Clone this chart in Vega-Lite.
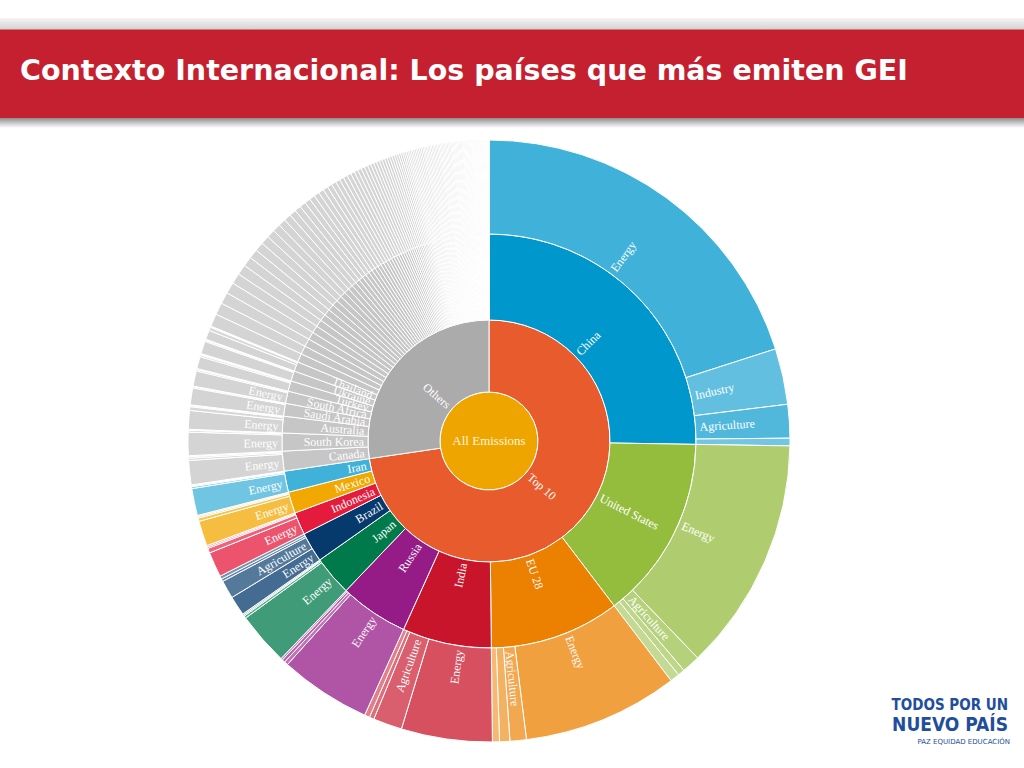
{
"$schema":"https://vega.github.io/schema/vega-lite/v6.json",
"padding":{"top":18,"left":0,"right":0,"bottom":0},
"background":"#ffffff",
"spacing":0,
"config":{"view":{"stroke":null},"concat":{"spacing":0}},
"title":{"text":"PAZ   EQUIDAD   EDUCACIÓN","orient":"bottom","anchor":"end","frame":"bounds","offset":-16,"dx":-14,"font":"DejaVu Sans","fontSize":7,"fontWeight":"normal","color":"#1F4E9D"},
"datasets":{"emissions":[
{"level":0,"name":"All Emissions","group":"All Emissions","value":100},
{"level":1,"name":"Top 10","group":"Top 10","value":72.67},
{"level":1,"name":"Others","group":"Others","value":27.33},
{"level":2,"name":"China","group":"China","value":25.26},
{"level":2,"name":"United States","group":"United States","value":14.40},
{"level":2,"name":"EU 28","group":"EU 28","value":10.16},
{"level":2,"name":"India","group":"India","value":6.96},
{"level":2,"name":"Russia","group":"Russia","value":5.36},
{"level":2,"name":"Japan","group":"Japan","value":3.11},
{"level":2,"name":"Brazil","group":"Brazil","value":2.34},
{"level":2,"name":"Indonesia","group":"Indonesia","value":1.76},
{"level":2,"name":"Mexico","group":"Mexico","value":1.67},
{"level":2,"name":"Iran","group":"Iran","value":1.65},
{"level":2,"name":"Canada","group":"Other","value":1.55},
{"level":2,"name":"South Korea","group":"Other","value":1.40},
{"level":2,"name":"Australia","group":"Other","value":1.30},
{"level":2,"name":"Saudi Arabia","group":"Other","value":1.00},
{"level":2,"name":"South Africa","group":"Other","value":0.95},
{"level":2,"name":"Turkey","group":"Other","value":0.82},
{"level":2,"name":"Ukraine","group":"Other","value":0.80},
{"level":2,"name":"Thailand","group":"Other","value":0.75},
{"level":2,"group":"Other","value":0.68},{"level":2,"group":"Other","value":0.65},{"level":2,"group":"Other","value":0.62},{"level":2,"group":"Other","value":0.60},{"level":2,"group":"Other","value":0.57},{"level":2,"group":"Other","value":0.55},{"level":2,"group":"Other","value":0.52},{"level":2,"group":"Other","value":0.50},{"level":2,"group":"Other","value":0.48},{"level":2,"group":"Other","value":0.46},{"level":2,"group":"Other","value":0.44},{"level":2,"group":"Other","value":0.42},{"level":2,"group":"Other","value":0.40},{"level":2,"group":"Other","value":0.38},
{"level":2,"group":"Other","value":0.36},{"level":2,"group":"Other","value":0.34},{"level":2,"group":"Other","value":0.33},{"level":2,"group":"Other","value":0.31},{"level":2,"group":"Other","value":0.30},{"level":2,"group":"Other","value":0.29},{"level":2,"group":"Other","value":0.28},{"level":2,"group":"Other","value":0.27},{"level":2,"group":"Other","value":0.26},{"level":2,"group":"Other","value":0.25},{"level":2,"group":"Other","value":0.24},{"level":2,"group":"Other","value":0.23},{"level":2,"group":"Other","value":0.22},{"level":2,"group":"Other","value":0.22},{"level":2,"group":"Other","value":0.21},{"level":2,"group":"Other","value":0.20},{"level":2,"group":"Other","value":0.20},{"level":2,"group":"Other","value":0.19},{"level":2,"group":"Other","value":0.18},{"level":2,"group":"Other","value":0.18},{"level":2,"group":"Other","value":0.17},{"level":2,"group":"Other","value":0.16},{"level":2,"group":"Other","value":0.16},{"level":2,"group":"Other","value":0.15},{"level":2,"group":"Other","value":0.15},{"level":2,"group":"Other","value":0.14},{"level":2,"group":"Other","value":0.14},{"level":2,"group":"Other","value":0.13},{"level":2,"group":"Other","value":0.13},{"level":2,"group":"Other","value":0.12},{"level":2,"group":"Other","value":0.12},{"level":2,"group":"Other","value":0.11},{"level":2,"group":"Other","value":0.11},{"level":2,"group":"Other","value":0.10},{"level":2,"group":"Other","value":0.10},
{"level":2,"group":"Other","value":0.09},{"level":2,"group":"Other","value":0.09},{"level":2,"group":"Other","value":0.09},{"level":2,"group":"Other","value":0.09},{"level":2,"group":"Other","value":0.09},{"level":2,"group":"Other","value":0.09},{"level":2,"group":"Other","value":0.09},{"level":2,"group":"Other","value":0.09},{"level":2,"group":"Other","value":0.09},{"level":2,"group":"Other","value":0.09},
{"level":2,"group":"Other","value":0.08},{"level":2,"group":"Other","value":0.08},{"level":2,"group":"Other","value":0.08},{"level":2,"group":"Other","value":0.08},{"level":2,"group":"Other","value":0.08},{"level":2,"group":"Other","value":0.08},{"level":2,"group":"Other","value":0.08},{"level":2,"group":"Other","value":0.08},{"level":2,"group":"Other","value":0.08},{"level":2,"group":"Other","value":0.08},
{"level":2,"group":"Other","value":0.07},{"level":2,"group":"Other","value":0.07},{"level":2,"group":"Other","value":0.07},{"level":2,"group":"Other","value":0.07},{"level":2,"group":"Other","value":0.07},{"level":2,"group":"Other","value":0.07},{"level":2,"group":"Other","value":0.07},{"level":2,"group":"Other","value":0.07},{"level":2,"group":"Other","value":0.07},{"level":2,"group":"Other","value":0.07},
{"level":2,"group":"Other","value":0.06},{"level":2,"group":"Other","value":0.06},{"level":2,"group":"Other","value":0.06},{"level":2,"group":"Other","value":0.06},{"level":2,"group":"Other","value":0.06},{"level":2,"group":"Other","value":0.06},{"level":2,"group":"Other","value":0.06},{"level":2,"group":"Other","value":0.06},{"level":2,"group":"Other","value":0.06},{"level":2,"group":"Other","value":0.06},
{"level":2,"group":"Other","value":0.05},{"level":2,"group":"Other","value":0.05},{"level":2,"group":"Other","value":0.05},{"level":2,"group":"Other","value":0.05},{"level":2,"group":"Other","value":0.05},{"level":2,"group":"Other","value":0.05},{"level":2,"group":"Other","value":0.05},{"level":2,"group":"Other","value":0.05},{"level":2,"group":"Other","value":0.05},{"level":2,"group":"Other","value":0.05},
{"level":2,"group":"Other","value":0.04},{"level":2,"group":"Other","value":0.04},{"level":2,"group":"Other","value":0.04},{"level":2,"group":"Other","value":0.04},{"level":2,"group":"Other","value":0.04},{"level":2,"group":"Other","value":0.04},{"level":2,"group":"Other","value":0.04},{"level":2,"group":"Other","value":0.04},{"level":2,"group":"Other","value":0.04},{"level":2,"group":"Other","value":0.04},
{"level":2,"group":"Other","value":0.03},{"level":2,"group":"Other","value":0.03},{"level":2,"group":"Other","value":0.03},{"level":2,"group":"Other","value":0.03},{"level":2,"group":"Other","value":0.03},{"level":2,"group":"Other","value":0.03},{"level":2,"group":"Other","value":0.03},{"level":2,"group":"Other","value":0.03},{"level":2,"group":"Other","value":0.03},{"level":2,"group":"Other","value":0.03},
{"level":2,"group":"Other","value":0.02},{"level":2,"group":"Other","value":0.02},{"level":2,"group":"Other","value":0.02},{"level":2,"group":"Other","value":0.02},{"level":2,"group":"Other","value":0.02},{"level":2,"group":"Other","value":0.02},{"level":2,"group":"Other","value":0.02},{"level":2,"group":"Other","value":0.02},{"level":2,"group":"Other","value":0.02},{"level":2,"group":"Other","value":0.02},
{"level":2,"group":"Other","value":0.01},{"level":2,"group":"Other","value":0.01},{"level":2,"group":"Other","value":0.01},{"level":2,"group":"Other","value":0.01},
{"level":3,"name":"Energy","group":"China","value":20.05},{"level":3,"name":"Industry","group":"China","value":3.00},{"level":3,"name":"Agriculture","group":"China","value":1.80},{"level":3,"name":"Waste","group":"China","value":0.41},
{"level":3,"name":"Energy","group":"United States","value":12.55},{"level":3,"name":"Agriculture","group":"United States","value":0.98},{"level":3,"name":"Industry","group":"United States","value":0.37},{"level":3,"name":"Waste","group":"United States","value":0.50},
{"level":3,"name":"Energy","group":"EU 28","value":8.35},{"level":3,"name":"Agriculture","group":"EU 28","value":0.88},{"level":3,"name":"Industry","group":"EU 28","value":0.55},{"level":3,"name":"Waste","group":"EU 28","value":0.38},
{"level":3,"name":"Energy","group":"India","value":4.88},{"level":3,"name":"Agriculture","group":"India","value":1.55},{"level":3,"name":"Industry","group":"India","value":0.25},{"level":3,"name":"Waste","group":"India","value":0.28},
{"level":3,"name":"Energy","group":"Russia","value":4.90},{"level":3,"name":"Industry","group":"Russia","value":0.20},{"level":3,"name":"Agriculture","group":"Russia","value":0.16},{"level":3,"name":"Waste","group":"Russia","value":0.10},
{"level":3,"name":"Energy","group":"Japan","value":2.85},{"level":3,"name":"Industry","group":"Japan","value":0.13},{"level":3,"name":"Agriculture","group":"Japan","value":0.06},{"level":3,"name":"Waste","group":"Japan","value":0.07},
{"level":3,"name":"Energy","group":"Brazil","value":1.05},{"level":3,"name":"Agriculture","group":"Brazil","value":0.98},{"level":3,"name":"Industry","group":"Brazil","value":0.14},{"level":3,"name":"Waste","group":"Brazil","value":0.17},
{"level":3,"name":"Energy","group":"Indonesia","value":1.35},{"level":3,"name":"Agriculture","group":"Indonesia","value":0.25},{"level":3,"name":"Industry","group":"Indonesia","value":0.08},{"level":3,"name":"Waste","group":"Indonesia","value":0.08},
{"level":3,"name":"Energy","group":"Mexico","value":1.35},{"level":3,"name":"Agriculture","group":"Mexico","value":0.17},{"level":3,"name":"Industry","group":"Mexico","value":0.08},{"level":3,"name":"Waste","group":"Mexico","value":0.07},
{"level":3,"name":"Energy","group":"Iran","value":1.45},{"level":3,"name":"Agriculture","group":"Iran","value":0.10},{"level":3,"name":"Industry","group":"Iran","value":0.05},{"level":3,"name":"Waste","group":"Iran","value":0.05},
{"level":3,"name":"Energy","group":"Other","value":1.30},{"level":3,"name":"Agriculture","group":"Other","value":0.12},{"level":3,"name":"Industry","group":"Other","value":0.08},{"level":3,"name":"Waste","group":"Other","value":0.05},
{"level":3,"name":"Energy","group":"Other","value":1.25},{"level":3,"name":"Industry","group":"Other","value":0.10},{"level":3,"name":"Agriculture","group":"Other","value":0.03},{"level":3,"name":"Waste","group":"Other","value":0.02},
{"level":3,"name":"Energy","group":"Other","value":1.00},{"level":3,"name":"Agriculture","group":"Other","value":0.20},{"level":3,"name":"Industry","group":"Other","value":0.05},{"level":3,"name":"Waste","group":"Other","value":0.05},
{"level":3,"name":"Energy","group":"Other","value":0.90},{"level":3,"name":"Industry","group":"Other","value":0.07},{"level":3,"name":"Agriculture","group":"Other","value":0.02},{"level":3,"name":"Waste","group":"Other","value":0.01},
{"level":3,"name":"Energy","group":"Other","value":0.82},{"level":3,"name":"Agriculture","group":"Other","value":0.08},{"level":3,"name":"Industry","group":"Other","value":0.03},{"level":3,"name":"Waste","group":"Other","value":0.02},
{"level":3,"name":"Energy","group":"Other","value":0.65},{"level":3,"name":"Agriculture","group":"Other","value":0.09},{"level":3,"name":"Industry","group":"Other","value":0.05},{"level":3,"name":"Waste","group":"Other","value":0.03},
{"level":3,"name":"Energy","group":"Other","value":0.68},{"level":3,"name":"Agriculture","group":"Other","value":0.07},{"level":3,"name":"Industry","group":"Other","value":0.03},{"level":3,"name":"Waste","group":"Other","value":0.02},
{"level":3,"name":"Energy","group":"Other","value":0.50},{"level":3,"name":"Agriculture","group":"Other","value":0.18},{"level":3,"name":"Industry","group":"Other","value":0.04},{"level":3,"name":"Waste","group":"Other","value":0.03},
{"level":3,"name":"Energy","group":"Other","value":0.68},{"level":3,"name":"Energy","group":"Other","value":0.65},{"level":3,"name":"Energy","group":"Other","value":0.62},{"level":3,"name":"Energy","group":"Other","value":0.60},{"level":3,"name":"Energy","group":"Other","value":0.57},{"level":3,"name":"Energy","group":"Other","value":0.55},{"level":3,"name":"Energy","group":"Other","value":0.52},{"level":3,"name":"Energy","group":"Other","value":0.50},{"level":3,"name":"Energy","group":"Other","value":0.48},{"level":3,"name":"Energy","group":"Other","value":0.46},{"level":3,"name":"Energy","group":"Other","value":0.44},{"level":3,"name":"Energy","group":"Other","value":0.42},{"level":3,"name":"Energy","group":"Other","value":0.40},{"level":3,"name":"Energy","group":"Other","value":0.38},
{"level":3,"name":"Energy","group":"Other","value":0.36},{"level":3,"name":"Energy","group":"Other","value":0.34},{"level":3,"name":"Energy","group":"Other","value":0.33},{"level":3,"name":"Energy","group":"Other","value":0.31},{"level":3,"name":"Energy","group":"Other","value":0.30},{"level":3,"name":"Energy","group":"Other","value":0.29},{"level":3,"name":"Energy","group":"Other","value":0.28},{"level":3,"name":"Energy","group":"Other","value":0.27},{"level":3,"name":"Energy","group":"Other","value":0.26},{"level":3,"name":"Energy","group":"Other","value":0.25},{"level":3,"name":"Energy","group":"Other","value":0.24},{"level":3,"name":"Energy","group":"Other","value":0.23},{"level":3,"name":"Energy","group":"Other","value":0.22},{"level":3,"name":"Energy","group":"Other","value":0.22},{"level":3,"name":"Energy","group":"Other","value":0.21},{"level":3,"name":"Energy","group":"Other","value":0.20},{"level":3,"name":"Energy","group":"Other","value":0.20},{"level":3,"name":"Energy","group":"Other","value":0.19},{"level":3,"name":"Energy","group":"Other","value":0.18},{"level":3,"name":"Energy","group":"Other","value":0.18},{"level":3,"name":"Energy","group":"Other","value":0.17},{"level":3,"name":"Energy","group":"Other","value":0.16},{"level":3,"name":"Energy","group":"Other","value":0.16},{"level":3,"name":"Energy","group":"Other","value":0.15},{"level":3,"name":"Energy","group":"Other","value":0.15},{"level":3,"name":"Energy","group":"Other","value":0.14},{"level":3,"name":"Energy","group":"Other","value":0.14},{"level":3,"name":"Energy","group":"Other","value":0.13},{"level":3,"name":"Energy","group":"Other","value":0.13},{"level":3,"name":"Energy","group":"Other","value":0.12},{"level":3,"name":"Energy","group":"Other","value":0.12},{"level":3,"name":"Energy","group":"Other","value":0.11},{"level":3,"name":"Energy","group":"Other","value":0.11},{"level":3,"name":"Energy","group":"Other","value":0.10},{"level":3,"name":"Energy","group":"Other","value":0.10},
{"level":3,"name":"Energy","group":"Other","value":0.09},{"level":3,"name":"Energy","group":"Other","value":0.09},{"level":3,"name":"Energy","group":"Other","value":0.09},{"level":3,"name":"Energy","group":"Other","value":0.09},{"level":3,"name":"Energy","group":"Other","value":0.09},{"level":3,"name":"Energy","group":"Other","value":0.09},{"level":3,"name":"Energy","group":"Other","value":0.09},{"level":3,"name":"Energy","group":"Other","value":0.09},{"level":3,"name":"Energy","group":"Other","value":0.09},{"level":3,"name":"Energy","group":"Other","value":0.09},
{"level":3,"name":"Energy","group":"Other","value":0.08},{"level":3,"name":"Energy","group":"Other","value":0.08},{"level":3,"name":"Energy","group":"Other","value":0.08},{"level":3,"name":"Energy","group":"Other","value":0.08},{"level":3,"name":"Energy","group":"Other","value":0.08},{"level":3,"name":"Energy","group":"Other","value":0.08},{"level":3,"name":"Energy","group":"Other","value":0.08},{"level":3,"name":"Energy","group":"Other","value":0.08},{"level":3,"name":"Energy","group":"Other","value":0.08},{"level":3,"name":"Energy","group":"Other","value":0.08},
{"level":3,"name":"Energy","group":"Other","value":0.07},{"level":3,"name":"Energy","group":"Other","value":0.07},{"level":3,"name":"Energy","group":"Other","value":0.07},{"level":3,"name":"Energy","group":"Other","value":0.07},{"level":3,"name":"Energy","group":"Other","value":0.07},{"level":3,"name":"Energy","group":"Other","value":0.07},{"level":3,"name":"Energy","group":"Other","value":0.07},{"level":3,"name":"Energy","group":"Other","value":0.07},{"level":3,"name":"Energy","group":"Other","value":0.07},{"level":3,"name":"Energy","group":"Other","value":0.07},
{"level":3,"name":"Energy","group":"Other","value":0.06},{"level":3,"name":"Energy","group":"Other","value":0.06},{"level":3,"name":"Energy","group":"Other","value":0.06},{"level":3,"name":"Energy","group":"Other","value":0.06},{"level":3,"name":"Energy","group":"Other","value":0.06},{"level":3,"name":"Energy","group":"Other","value":0.06},{"level":3,"name":"Energy","group":"Other","value":0.06},{"level":3,"name":"Energy","group":"Other","value":0.06},{"level":3,"name":"Energy","group":"Other","value":0.06},{"level":3,"name":"Energy","group":"Other","value":0.06},
{"level":3,"name":"Energy","group":"Other","value":0.05},{"level":3,"name":"Energy","group":"Other","value":0.05},{"level":3,"name":"Energy","group":"Other","value":0.05},{"level":3,"name":"Energy","group":"Other","value":0.05},{"level":3,"name":"Energy","group":"Other","value":0.05},{"level":3,"name":"Energy","group":"Other","value":0.05},{"level":3,"name":"Energy","group":"Other","value":0.05},{"level":3,"name":"Energy","group":"Other","value":0.05},{"level":3,"name":"Energy","group":"Other","value":0.05},{"level":3,"name":"Energy","group":"Other","value":0.05},
{"level":3,"name":"Energy","group":"Other","value":0.04},{"level":3,"name":"Energy","group":"Other","value":0.04},{"level":3,"name":"Energy","group":"Other","value":0.04},{"level":3,"name":"Energy","group":"Other","value":0.04},{"level":3,"name":"Energy","group":"Other","value":0.04},{"level":3,"name":"Energy","group":"Other","value":0.04},{"level":3,"name":"Energy","group":"Other","value":0.04},{"level":3,"name":"Energy","group":"Other","value":0.04},{"level":3,"name":"Energy","group":"Other","value":0.04},{"level":3,"name":"Energy","group":"Other","value":0.04},
{"level":3,"name":"Energy","group":"Other","value":0.03},{"level":3,"name":"Energy","group":"Other","value":0.03},{"level":3,"name":"Energy","group":"Other","value":0.03},{"level":3,"name":"Energy","group":"Other","value":0.03},{"level":3,"name":"Energy","group":"Other","value":0.03},{"level":3,"name":"Energy","group":"Other","value":0.03},{"level":3,"name":"Energy","group":"Other","value":0.03},{"level":3,"name":"Energy","group":"Other","value":0.03},{"level":3,"name":"Energy","group":"Other","value":0.03},{"level":3,"name":"Energy","group":"Other","value":0.03},
{"level":3,"name":"Energy","group":"Other","value":0.02},{"level":3,"name":"Energy","group":"Other","value":0.02},{"level":3,"name":"Energy","group":"Other","value":0.02},{"level":3,"name":"Energy","group":"Other","value":0.02},{"level":3,"name":"Energy","group":"Other","value":0.02},{"level":3,"name":"Energy","group":"Other","value":0.02},{"level":3,"name":"Energy","group":"Other","value":0.02},{"level":3,"name":"Energy","group":"Other","value":0.02},{"level":3,"name":"Energy","group":"Other","value":0.02},{"level":3,"name":"Energy","group":"Other","value":0.02},
{"level":3,"name":"Energy","group":"Other","value":0.01},{"level":3,"name":"Energy","group":"Other","value":0.01},{"level":3,"name":"Energy","group":"Other","value":0.01},{"level":3,"name":"Energy","group":"Other","value":0.01}
]},
"vconcat":[
{
"width":1024,"height":110,
"view":{"stroke":null,"fill":{"gradient":"linear","x1":0,"y1":0,"x2":0,"y2":1,"stops":[{"offset":0,"color":"#F4F4F4"},{"offset":0.1,"color":"#D4D4D4"},{"offset":0.109,"color":"#C4202F"},{"offset":0.905,"color":"#C4202F"},{"offset":0.91,"color":"#8E8E8E"},{"offset":0.955,"color":"#CACACA"},{"offset":1,"color":"#FFFFFF"}]}},
"data":{"values":[]},
"mark":{"type":"text"},
"title":{"text":"Contexto Internacional: Los países que más emiten GEI","orient":"top","anchor":"start","frame":"group","offset":-81,"dx":20,"baseline":"middle","color":"#ffffff","font":"DejaVu Sans","fontSize":28.5,"fontWeight":"bold"}
},
{
"width":978,"height":626,
"data":{"name":"emissions"},
"title":{"text":"TODOS POR UN","subtitle":"NUEVO PAÍS","orient":"bottom","anchor":"end","frame":"group","offset":-56,"dx":30,"font":"Liberation Sans Narrow, DejaVu Sans Condensed, Liberation Sans","fontSize":15,"fontWeight":"bold","color":"#1F4E9D","subtitleFont":"Liberation Sans Narrow, DejaVu Sans Condensed, Liberation Sans","subtitleFontSize":19,"subtitleFontWeight":"bold","subtitleColor":"#1F4E9D","subtitlePadding":3},
"layer":[
{"transform":[{"filter":"datum.level == 0"},{"stack":"value","groupby":[],"as":["t0","t1"]}],
 "mark":{"type":"arc","stroke":"#ffffff","strokeWidth":1},
 "encoding":{
  "theta":{"field":"t0","type":"quantitative","stack":null,"scale":{"domain":[0,100]}},
  "theta2":{"field":"t1"},
  "radius":{"datum":1,"type":"quantitative","scale":{"type":"linear","domain":[0,1,2,3,4],"range":[0,49,121,207,301]}},
  "radius2":{"datum":0},
  "color":{"field":"group","type":"nominal","legend":null,"scale":{"domain":["All Emissions","Top 10","Others","China","United States","EU 28","India","Russia","Japan","Brazil","Indonesia","Mexico","Iran","Other"],"range":["#EFA500","#E75B2D","#ABABAB","#0097CC","#94BC3D","#EC8000","#C8152B","#951B87","#00794B","#063A6D","#E51B3D","#F1A800","#40B1D8","#C6C6C6"]}}
 }},
{"transform":[{"filter":"datum.level == 1"},{"stack":"value","groupby":[],"as":["t0","t1"]}],
 "mark":{"type":"arc","stroke":"#ffffff","strokeWidth":1},
 "encoding":{
  "theta":{"field":"t0","type":"quantitative","stack":null,"scale":{"domain":[0,100]}},
  "theta2":{"field":"t1"},
  "radius":{"datum":2,"type":"quantitative","scale":{"type":"linear","domain":[0,1,2,3,4],"range":[0,49,121,207,301]}},
  "radius2":{"datum":1},
  "color":{"field":"group","type":"nominal","legend":null,"scale":{"domain":["All Emissions","Top 10","Others","China","United States","EU 28","India","Russia","Japan","Brazil","Indonesia","Mexico","Iran","Other"],"range":["#EFA500","#E75B2D","#ABABAB","#0097CC","#94BC3D","#EC8000","#C8152B","#951B87","#00794B","#063A6D","#E51B3D","#F1A800","#40B1D8","#C6C6C6"]}}
 }},
{"transform":[{"filter":"datum.level == 2"},{"stack":"value","groupby":[],"as":["t0","t1"]}],
 "mark":{"type":"arc","stroke":"#ffffff","strokeWidth":1},
 "encoding":{
  "theta":{"field":"t0","type":"quantitative","stack":null,"scale":{"domain":[0,100]}},
  "theta2":{"field":"t1"},
  "radius":{"datum":3,"type":"quantitative","scale":{"type":"linear","domain":[0,1,2,3,4],"range":[0,49,121,207,301]}},
  "radius2":{"datum":2},
  "color":{"field":"group","type":"nominal","legend":null,"scale":{"domain":["All Emissions","Top 10","Others","China","United States","EU 28","India","Russia","Japan","Brazil","Indonesia","Mexico","Iran","Other"],"range":["#EFA500","#E75B2D","#ABABAB","#0097CC","#94BC3D","#EC8000","#C8152B","#951B87","#00794B","#063A6D","#E51B3D","#F1A800","#40B1D8","#C6C6C6"]}}
 }},
{"transform":[{"filter":"datum.level == 3"},{"stack":"value","groupby":[],"as":["t0","t1"]}],
 "mark":{"type":"arc","stroke":"#ffffff","strokeWidth":1},
 "encoding":{
  "theta":{"field":"t0","type":"quantitative","stack":null,"scale":{"domain":[0,100]}},
  "theta2":{"field":"t1"},
  "radius":{"datum":4,"type":"quantitative","scale":{"type":"linear","domain":[0,1,2,3,4],"range":[0,49,121,207,301]}},
  "radius2":{"datum":3},
  "color":{"field":"group","type":"nominal","legend":null,"scale":{"domain":["All Emissions","Top 10","Others","China","United States","EU 28","India","Russia","Japan","Brazil","Indonesia","Mexico","Iran","Other"],"range":["#EFA500","#E75B2D","#ABABAB","#0097CC","#94BC3D","#EC8000","#C8152B","#951B87","#00794B","#063A6D","#E51B3D","#F1A800","#40B1D8","#C6C6C6"]}},
  "fillOpacity":{"field":"name","type":"ordinal","legend":null,"scale":{"domain":["Energy","Agriculture","Industry","Waste"],"range":[0.75,0.55,0.42,0.3]}}
 }},
{"transform":[{"filter":"datum.level >= 1"},{"stack":"value","groupby":["level"],"as":["t0","t1"]},{"filter":"datum.value >= 0.7"},{"fold":["t0","t1"],"as":["edge","pos"]},{"aggregate":[{"op":"mean","field":"pos","as":"mid"}],"groupby":["level","name","t0"]},{"filter":"datum.mid < 50"}],
 "mark":{"type":"text","align":"left","baseline":"middle","radiusOffset":4,"color":"#ffffff","font":"Liberation Serif","fontSize":12},
 "encoding":{
  "theta":{"field":"mid","type":"quantitative","stack":null,"scale":{"domain":[0,100]}},
  "radius":{"field":"level","type":"quantitative","scale":{"type":"linear","domain":[0,1,2,3,4],"range":[0,49,121,207,301]}},
  "angle":{"field":"mid","type":"quantitative","scale":{"domain":[0,50,50.0001,100],"range":[-90,90,-90,90]}},
  "text":{"field":"name"}
 }},
{"transform":[{"filter":"datum.level >= 1"},{"stack":"value","groupby":["level"],"as":["t0","t1"]},{"filter":"datum.value >= 0.7"},{"fold":["t0","t1"],"as":["edge","pos"]},{"aggregate":[{"op":"mean","field":"pos","as":"mid"}],"groupby":["level","name","t0"]},{"filter":"datum.mid >= 50"}],
 "mark":{"type":"text","align":"right","baseline":"middle","radiusOffset":4,"color":"#ffffff","font":"Liberation Serif","fontSize":12},
 "encoding":{
  "theta":{"field":"mid","type":"quantitative","stack":null,"scale":{"domain":[0,100]}},
  "radius":{"field":"level","type":"quantitative","scale":{"type":"linear","domain":[0,1,2,3,4],"range":[0,49,121,207,301]}},
  "angle":{"field":"mid","type":"quantitative","scale":{"domain":[0,50,50.0001,100],"range":[-90,90,-90,90]}},
  "text":{"field":"name"}
 }},
{"transform":[{"filter":"datum.level == 0"}],
 "mark":{"type":"text","align":"center","baseline":"middle","color":"#FFF6DD","font":"Liberation Serif","fontSize":13},
 "encoding":{"text":{"field":"name"}}}
]
}
]
}
